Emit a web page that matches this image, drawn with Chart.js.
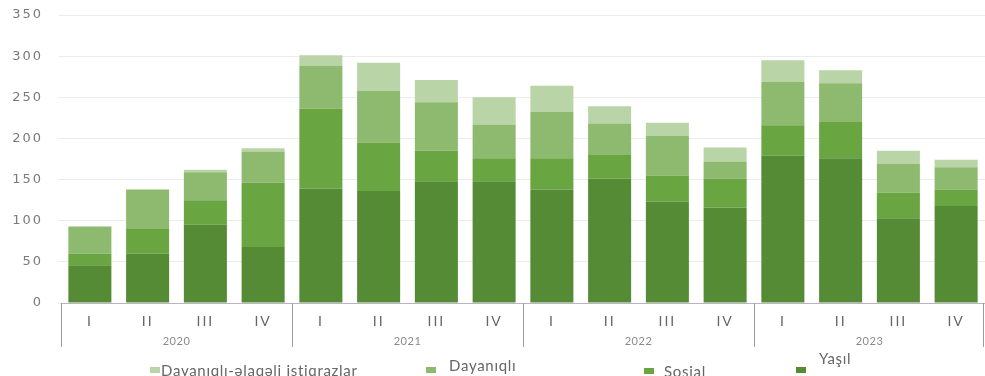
<!DOCTYPE html>
<html>
<head>
<meta charset="utf-8">
<script src="https://cdn.jsdelivr.net/npm/chart.js@4/dist/chart.umd.min.js"></script>
<style>
  html, body { margin: 0; padding: 0; background: #fff; }
  #wrap { position: relative; width: 985px; height: 376px; }
  #wrap canvas { position: absolute; left: 0; top: 0; }
  .lg { position: absolute; font-family: Lato, "Open Sans", sans-serif; font-size: 15px; color: #666; white-space: nowrap; line-height: 16px; letter-spacing: 0.7px; }
  .sw { position: absolute; width: 10px; height: 6px; }
</style>
</head>
<body>
<div id="wrap">
  <canvas id="c" width="985" height="376"></canvas>
</div>
<script>
// Quarterly issuance, stacked by bond type
const years = ['2020', '2021', '2022', '2023'];
const quarters = ['I', 'II', 'III', 'IV'];

const yasil      = [46, 60, 95, 68, 139, 136, 148, 148, 138, 151, 123, 116, 179, 176, 103, 118];
const sosial     = [14, 30, 30, 78,  97,  59,  37,  28,  38,  29,  32,  35,  37,  44,  31,  20];
const dayaniqli  = [33, 48, 34, 38,  52,  63,  59,  41,  56,  38,  48,  21,  53,  47,  35,  27];
const elaqeli    = [ 0,  0,  3,  4,  13,  34,  27,  33,  32,  21,  16,  17,  26,  16,  16,   9];

const seriesNames = ['Yaşıl', 'Sosial', 'Dayanıqlı', 'Dayanıqlı-əlaqəli istiqrazlar'];
const yTicks = [0, 50, 100, 150, 200, 250, 300, 350];

const colors = ['#568b35', '#69a540', '#8dba6e', '#b9d4a6'];

const labels = [];
years.forEach(() => quarters.forEach(q => labels.push(q)));

// Wider tracking for the axis numbers and quarter labels
const tracking = {
  id: 'tracking',
  beforeDraw(chart) { chart.ctx.letterSpacing = '2px'; },
  beforeDatasetsDraw(chart) { chart.ctx.letterSpacing = '0px'; }
};

// Year row under the quarter labels, with separators between years
const yearGroups = {
  id: 'yearGroups',
  afterDraw(chart) {
    const ctx = chart.ctx;
    const x = chart.scales.x;
    const base = chart.chartArea.bottom;
    const step = x.getPixelForValue(1) - x.getPixelForValue(0);
    ctx.save();
    ctx.letterSpacing = '0.5px';
    ctx.strokeStyle = '#9a9a9a';
    ctx.lineWidth = 1;
    for (let g = 0; g <= years.length; g++) {
      const idx = g * quarters.length;
      let px = x.getPixelForValue(Math.min(idx, labels.length - 1)) + (idx >= labels.length ? step / 2 : -step / 2);
      px = Math.round(px) + 0.5;
      if (px > chart.width - 0.5) px = chart.width - 1.5;
      ctx.beginPath();
      ctx.moveTo(px, base);
      ctx.lineTo(px, base + 44);
      ctx.stroke();
    }
    ctx.fillStyle = '#8a8a8a';
    ctx.font = '11px Lato, "Open Sans", sans-serif';
    ctx.textAlign = 'center';
    ctx.textBaseline = 'middle';
    years.forEach((yr, g) => {
      const a = x.getPixelForValue(g * quarters.length);
      const b = x.getPixelForValue(g * quarters.length + quarters.length - 1);
      ctx.fillText(yr, (a + b) / 2, base + 38);
    });
    ctx.restore();
  }
};

const datasets = [yasil, sosial, dayaniqli, elaqeli].map((d, i) => ({
  label: seriesNames[i],
  data: d,
  backgroundColor: colors[i],
  borderWidth: 0,
  barPercentage: 0.745,
  categoryPercentage: 1.0,
  stack: 's'
}));

new Chart(document.getElementById('c'), {
  type: 'bar',
  data: { labels, datasets },
  options: {
    responsive: false,
    animation: false,
    layout: { padding: { top: 15, right: 0, bottom: 0, left: 0 } },
    plugins: { legend: { display: false }, tooltip: { enabled: false } },
    scales: {
      x: {
        stacked: true,
        grid: { display: false },
        border: { display: true, color: '#b9b3c4', width: 1 },
        ticks: { color: '#666', font: { family: 'Lato, "Open Sans", sans-serif', size: 14 }, padding: 2, maxRotation: 0, autoSkip: false },
        afterFit(s) { s.height = 73; }
      },
      y: {
        stacked: true,
        min: 0, max: 350,
        afterBuildTicks(s) { s.ticks = yTicks.map(v => ({ value: v })); },
        grid: { color: '#ececec', drawTicks: true, tickLength: 3, tickColor: '#ececec' },
        border: { display: false },
        ticks: { color: '#7a7a7a', font: { family: '"DejaVu Sans", sans-serif', size: 13 }, padding: 15 },
        afterFit(s) { s.width = 61; s.paddingTop = 0; s.paddingBottom = 0; }
      }
    }
  },
  plugins: [tracking, yearGroups]
});

// Legend: hand-placed entries in the order shown under the chart
const legendItems = [
  { i: 3, sx: 150, sy: 367, tx: 161, ty: 362 },
  { i: 2, sx: 426, sy: 367, tx: 449, ty: 357 },
  { i: 1, sx: 644, sy: 368, tx: 664, ty: 363 },
  { i: 0, sx: 796, sy: 367, tx: 819, ty: 350 }
];
const wrap = document.getElementById('wrap');
legendItems.forEach(it => {
  const sw = document.createElement('div');
  sw.className = 'sw';
  sw.style.left = it.sx + 'px';
  sw.style.top = it.sy + 'px';
  sw.style.background = colors[it.i];
  wrap.appendChild(sw);
  const t = document.createElement('div');
  t.className = 'lg';
  t.style.left = it.tx + 'px';
  t.style.top = it.ty + 'px';
  t.textContent = seriesNames[it.i];
  wrap.appendChild(t);
});
</script>
</body>
</html>
